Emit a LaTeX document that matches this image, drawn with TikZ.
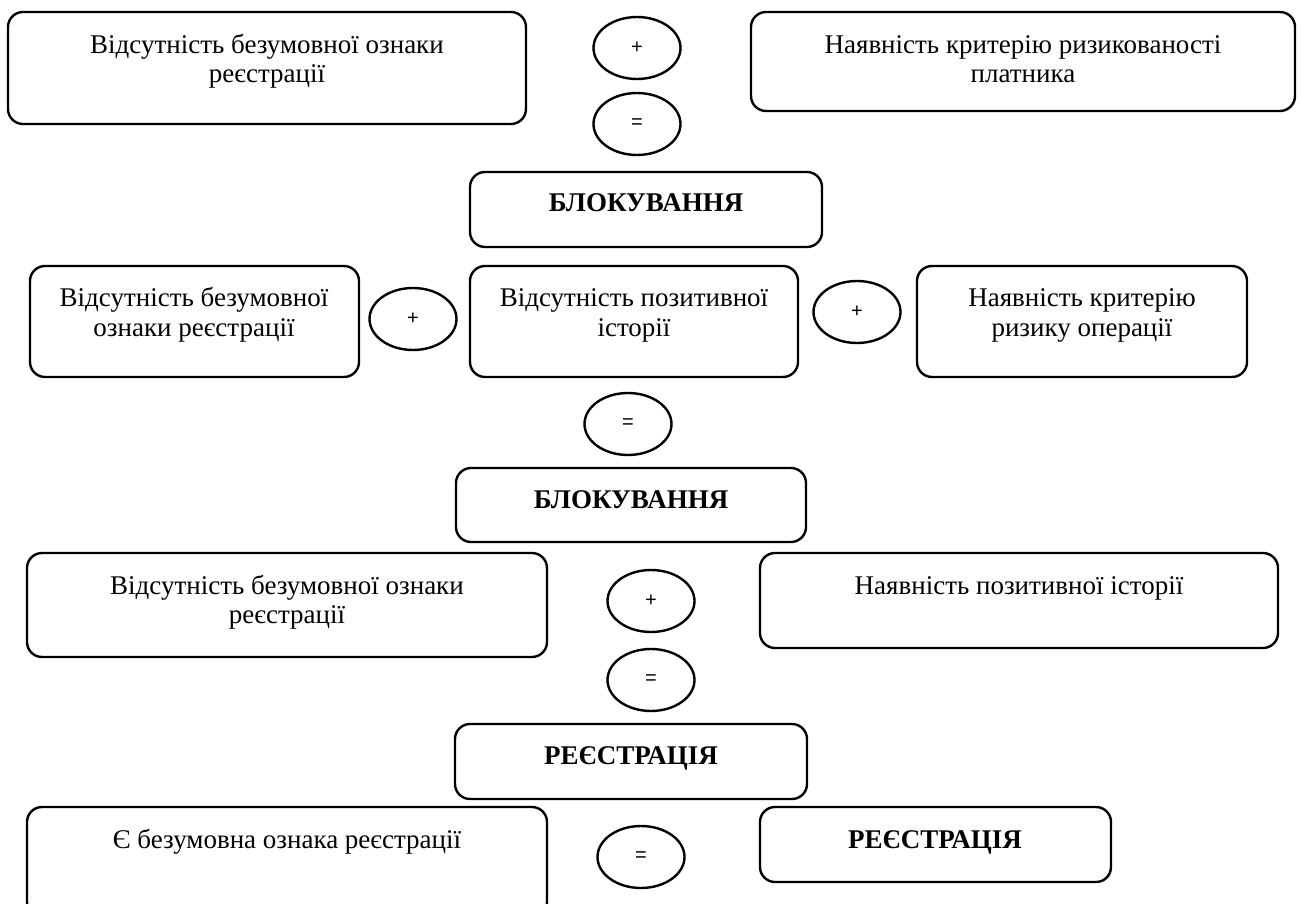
\documentclass[tikz,border=0pt]{standalone}
\usepackage{fontspec}
\setmainfont{Liberation Serif}
\newfontfamily\opfont{Liberation Sans}
\usetikzlibrary{shapes.geometric}
\begin{document}
\begin{tikzpicture}[x=1pt,y=-1pt,
  box/.style={draw, line width=2.4pt, rounded corners=15pt, anchor=north west, inner sep=0pt, outer sep=0pt},
  op/.style={draw, ellipse, line width=2.4pt, minimum width=87pt, minimum height=62pt, inner sep=0pt, font=\opfont\fontsize{20}{24}\selectfont},
  txt/.style={anchor=base, inner sep=0pt, font=\fontsize{27}{31}\selectfont},
  btxt/.style={anchor=base, inner sep=0pt, font=\fontsize{27}{31}\selectfont\bfseries}]
\useasboundingbox (0,0) rectangle (1302,904);
\clip (0,0) rectangle (1302,904);
% row 1
\node[box, minimum width=518pt, minimum height=112pt] (a1) at (8,12) {};
\node[txt] (a1l1) at (267,54) {Відсутність безумовної ознаки};
\node[txt] (a1l2) at (267,83) {реєстрації};
\node[op] (p1) at (637,48) {+};
\node[box, minimum width=544pt, minimum height=99pt] (b1) at (751,12) {};
\node[txt] (b1l1) at (1023,54) {Наявність критерію ризикованості};
\node[txt] (b1l2) at (1023,83) {платника};
\node[op] (q1) at (637,124) {=};
\node[box, minimum width=352pt, minimum height=75pt] (k1) at (470,172) {};
\node[btxt] (k1l) at (646,212) {БЛОКУВАННЯ};
% row 2
\node[box, minimum width=329pt, minimum height=111pt] (a2) at (30,266) {};
\node[txt] (a2l1) at (194,307) {Відсутність безумовної};
\node[txt] (a2l2) at (194,337) {ознаки реєстрації};
\node[op] (p2) at (413,319) {+};
\node[box, minimum width=328pt, minimum height=111pt] (b2) at (470,266) {};
\node[txt] (b2l1) at (634,307) {Відсутність позитивної};
\node[txt] (b2l2) at (634,337) {історії};
\node[op] (p3) at (857,312) {+};
\node[box, minimum width=330pt, minimum height=111pt] (c2) at (917,266) {};
\node[txt] (c2l1) at (1082,307) {Наявність критерію};
\node[txt] (c2l2) at (1082,337) {ризику операції};
\node[op] (q2) at (628,424) {=};
\node[box, minimum width=350pt, minimum height=74pt] (k2) at (456,468) {};
\node[btxt] (k2l) at (631,508) {БЛОКУВАННЯ};
% row 3
\node[box, minimum width=520pt, minimum height=104pt] (a3) at (27,553) {};
\node[txt] (a3l1) at (287,594) {Відсутність безумовної ознаки};
\node[txt] (a3l2) at (287,623) {реєстрації};
\node[op] (p4) at (651,601) {+};
\node[box, minimum width=518pt, minimum height=95pt] (b3) at (760,553) {};
\node[txt] (b3l1) at (1019,594) {Наявність позитивної історії};
\node[op] (q3) at (651,680) {=};
\node[box, minimum width=352pt, minimum height=75pt] (r1) at (455,724) {};
\node[btxt] (r1l) at (631,764) {РЕЄСТРАЦІЯ};
% row 4
\node[box, minimum width=520pt, minimum height=110pt] (a4) at (27,807) {};
\node[txt] (a4l1) at (287,848) {Є безумовна ознака реєстрації};
\node[op] (q4) at (641,857) {=};
\node[box, minimum width=351pt, minimum height=75pt] (r2) at (760,807) {};
\node[btxt] (r2l) at (935,848) {РЕЄСТРАЦІЯ};
\end{tikzpicture}
\end{document}
